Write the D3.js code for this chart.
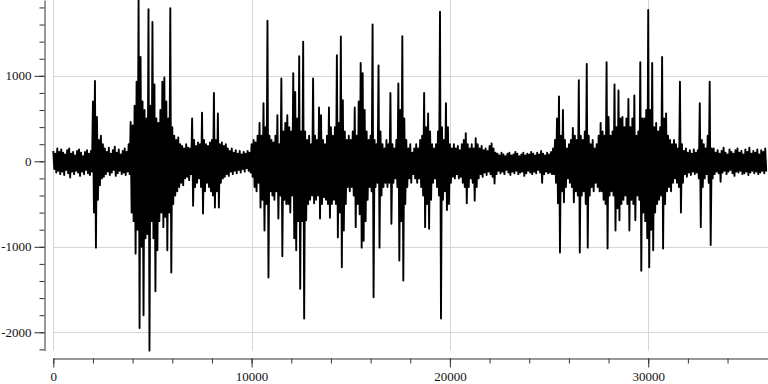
<!DOCTYPE html>
<html>
<head>
<meta charset="utf-8">
<script src="https://cdn.jsdelivr.net/npm/d3@7"></script>
<style>
  body { margin: 0; background: #fff; }
</style>
</head>
<body>
<div id="chart"></div>
<script>
// envelope of the waveform, one value per 100 samples
const step = 100;
const upper = [
  120, 90, 150, 110, 140, 100, 80, 130, 150, 90,
  110, 70, 120, 140, 100, 60, 110, 130, 90, 120,
  700, 940, 520, 250, 300, 200, 150, 110, 160, 90,
  130, 170, 100, 140, 80, 120, 150, 110, 200, 460,
  420, 650, 930, 1890, 1220, 700, 600, 500, 1780, 650,
  1630, 900, 500, 450, 600, 930, 980, 700, 500, 1790,
  400, 300, 250, 280, 200, 180, 150, 200, 160, 150,
  500, 250, 180, 220, 200, 570, 250, 200, 180, 220,
  250, 800, 250, 560, 200, 220, 180, 200, 150, 120,
  150, 100, 130, 90, 120, 80, 110, 90, 120, 100,
  200, 250, 220, 300, 450, 300, 680, 400, 1645, 300,
  250, 220, 300, 540, 200, 970, 350, 450, 540, 400,
  350, 1030, 810, 500, 1230, 350, 1400, 350, 250, 300,
  200, 970, 300, 250, 630, 540, 250, 200, 300, 630,
  400, 300, 400, 1240, 450, 1460, 715, 350, 250, 300,
  250, 350, 630, 300, 700, 1150, 1030, 600, 350, 250,
  300, 1600, 250, 200, 1120, 350, 200, 150, 250, 200,
  800, 200, 150, 250, 910, 600, 1465, 500, 250, 150,
  200, 100, 150, 200, 150, 250, 300, 800, 400, 560,
  350, 200, 150, 200, 350, 1750, 400, 250, 680, 400,
  200, 150, 200, 150, 180, 130, 200, 250, 330, 200,
  150, 200, 150, 270, 200, 150, 180, 130, 150, 120,
  180, 210, 150, 100, 90, 70, 100, 80, 60, 90,
  100, 70, 80, 110, 90, 60, 80, 100, 70, 90,
  80, 110, 90, 70, 100, 80, 120, 90, 70, 100,
  80, 110, 150, 250, 500, 760, 300, 600, 250, 150,
  200, 250, 390, 300, 250, 950, 300, 250, 350, 1140,
  300, 200, 250, 150, 200, 300, 450, 350, 300, 1160,
  520, 300, 350, 900, 400, 830, 500, 520, 400, 500,
  730, 400, 500, 770, 300, 350, 1160, 500, 500, 600,
  1770, 600, 1150, 400, 450, 350, 400, 1220, 500, 560,
  300, 250, 200, 250, 200, 150, 930, 200, 120, 150,
  100, 130, 90, 140, 100, 130, 680, 250, 200, 150,
  300, 930, 150, 150, 100, 130, 90, 120, 160, 100,
  80, 140, 110, 90, 130, 150, 100, 120, 80, 140,
  110, 160, 90, 120, 100, 140, 80, 130, 110, 150
];
const lower = [
  -90, -130, -110, -150, -120, -160, -100, -140, -190, -120,
  -150, -110, -130, -170, -120, -150, -100, -140, -160, -120,
  -600, -1010, -450, -280, -200, -180, -150, -120, -160, -130,
  -100, -170, -140, -110, -150, -130, -160, -120, -150, -600,
  -700, -1080, -800, -1950, -1000, -1800, -900, -850, -2215, -700,
  -900, -1520, -1040, -700, -600, -770, -650, -1040, -600, -1300,
  -500, -400, -350, -300, -250, -280, -200, -180, -220, -150,
  -520, -300, -250, -200, -300, -610, -350, -250, -300, -350,
  -400, -540, -350, -540, -250, -200, -180, -150, -170, -120,
  -150, -110, -140, -100, -130, -90, -120, -80, -110, -130,
  -180, -300, -350, -250, -540, -450, -810, -500, -1360, -350,
  -400, -450, -350, -670, -400, -1110, -450, -500, -500, -600,
  -400, -900, -1040, -700, -1490, -700, -1840, -690, -500, -450,
  -400, -490, -450, -400, -670, -500, -420, -450, -500, -660,
  -500, -450, -500, -890, -600, -1240, -810, -500, -300, -350,
  -300, -400, -770, -500, -620, -1010, -930, -700, -450, -300,
  -350, -1590, -300, -250, -1010, -400, -300, -250, -300, -250,
  -730, -250, -200, -300, -1160, -700, -1395, -500, -300, -200,
  -250, -150, -200, -250, -200, -300, -400, -770, -500, -790,
  -450, -250, -200, -300, -400, -1840, -450, -350, -570, -500,
  -250, -180, -200, -150, -200, -180, -250, -300, -490, -300,
  -200, -250, -460, -300, -200, -150, -180, -130, -160, -120,
  -150, -180, -260, -150, -110, -140, -120, -150, -100, -130,
  -160, -120, -140, -110, -150, -130, -120, -170, -140, -110,
  -130, -150, -120, -140, -100, -130, -250, -150, -120, -140,
  -130, -150, -150, -250, -490, -1066, -350, -480, -300, -200,
  -250, -300, -480, -350, -400, -1066, -400, -350, -500, -1010,
  -400, -300, -350, -250, -300, -350, -350, -450, -500, -1020,
  -400, -350, -400, -810, -550, -690, -500, -450, -400, -500,
  -810, -450, -500, -690, -400, -450, -1280, -600, -700, -900,
  -1240, -800, -1040, -600, -500, -450, -400, -1020, -500, -350,
  -300, -350, -250, -200, -250, -300, -600, -250, -150, -180,
  -130, -160, -120, -150, -130, -200, -770, -300, -200, -150,
  -250, -980, -200, -150, -120, -140, -240, -130, -110, -150,
  -120, -100, -140, -170, -120, -130, -110, -150, -140, -120,
  -160, -130, -110, -140, -120, -150, -130, -110, -140, -120
];
const xTicks = [0, 10000, 20000, 30000];
const yTicks = [-2000, -1000, 0, 1000];
const xMinor = [0, 2000, 4000, 6000, 8000, 10000, 12000, 14000, 16000, 18000, 20000,
  22000, 24000, 26000, 28000, 30000, 32000, 34000];
const yMinor = [-2200, -2000, -1800, -1600, -1400, -1200, -1000, -800, -600, -400, -200,
  0, 200, 400, 600, 800, 1000, 1200, 1400, 1600, 1800];

const W = 768, H = 384;
const x = d3.scaleLinear().domain([0, 36040]).range([53.3, 768]);
const y = d3.scaleLinear().domain([-2213, 1887]).range([350.5, 0]);

// zig-zag between the two envelopes
const samples = [];
upper.forEach((u, i) => {
  samples.push({t: i * step, v: u});
  samples.push({t: i * step + step / 2, v: lower[i]});
});

const svg = d3.select("#chart").append("svg")
  .attr("width", W).attr("height", H);

// grid
svg.append("g").selectAll("line").data(xTicks).join("line")
  .attr("x1", d => Math.round(x(d)) + 0.5).attr("x2", d => Math.round(x(d)) + 0.5)
  .attr("y1", 0).attr("y2", y.range()[0])
  .attr("stroke", "#d6d6d6");
svg.append("g").selectAll("line").data(yTicks).join("line")
  .attr("x1", x.range()[0]).attr("x2", W)
  .attr("y1", d => Math.round(y(d)) + 0.5).attr("y2", d => Math.round(y(d)) + 0.5)
  .attr("stroke", "#d6d6d6");

// waveform
svg.append("path")
  .datum(samples)
  .attr("fill", "none")
  .attr("stroke", "#000")
  .attr("stroke-width", 1.9)
  .attr("stroke-linejoin", "round")
  .attr("d", d3.line().x(d => x(d.t)).y(d => y(d.v)));

// y axis
const yAxisG = svg.append("g").attr("transform", "translate(44.5,0)");
yAxisG.append("g").call(d3.axisLeft(y).tickValues(yMinor).tickSize(5).tickSizeOuter(0).tickFormat(""));
yAxisG.append("g").call(d3.axisLeft(y).tickValues(yTicks).tickSize(10).tickPadding(3)
  .tickFormat(d => String(d))).select(".domain").remove();

// x axis
const xAxisG = svg.append("g").attr("transform", "translate(0,358.5)");
xAxisG.append("g").call(d3.axisBottom(x).tickValues(xMinor).tickSize(5).tickSizeOuter(0).tickFormat(""));
xAxisG.append("g").call(d3.axisBottom(x).tickValues(xTicks).tickSize(9).tickPadding(4)
  .tickFormat(d => String(d))).select(".domain").remove();

svg.selectAll(".domain, .tick line").attr("stroke", "#333");
svg.selectAll(".tick text")
  .style("font-family", "'Liberation Serif', serif")
  .style("font-size", "13px")
  .attr("fill", "#111");
</script>
</body>
</html>
